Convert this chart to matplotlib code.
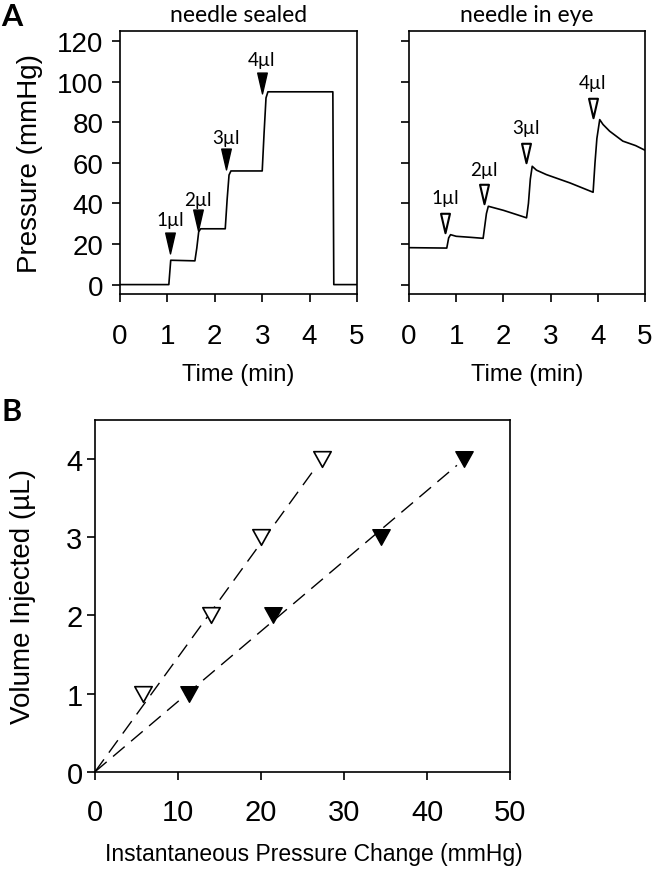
import numpy as np
import matplotlib.pyplot as plt
from matplotlib.path import Path

# panel A, needle sealed trace (min, mmHg)
t_sealed = [0, 1.03, 1.07, 1.58, 1.62, 1.66, 1.70, 2.22, 2.26, 2.30, 2.34, 3.0, 3.04, 3.08, 3.12, 4.49, 4.51, 5.0]
p_sealed = [0, 0, 12, 11.7, 18, 26, 27.5, 27.5, 42, 54, 56, 56, 75, 92, 95, 95, 0, 0]

# panel A, needle in eye trace
t_eye = [0, 0.80, 0.84, 0.88, 1.0, 1.3, 1.57, 1.60, 1.64, 1.68, 2.0, 2.28, 2.49, 2.53, 2.57, 2.61,
         2.70, 2.91, 3.41, 3.90, 3.94, 3.98, 4.04, 4.11, 4.25, 4.53, 4.8, 5.0]
p_eye = [18.2, 18.0, 23, 24.6, 23.8, 23.3, 22.8, 28, 35, 38.6, 36.6, 34.5, 32.9, 40, 52, 58.3,
         56.4, 54.2, 50.1, 45.5, 60, 72, 81.3, 78.9, 75.6, 70.7, 68.5, 66.2]

# injection markers: time, marker height, label height
inj_labels = ['1\u00b5l', '2\u00b5l', '3\u00b5l', '4\u00b5l']
sealed_mark_t = [1.05, 1.64, 2.23, 2.99]
sealed_mark_p = [20.5, 32, 62, 99.5]
sealed_lab_p = [32, 42, 72.6, 111]
eye_mark_t = [0.76, 1.59, 2.47, 3.89]
eye_mark_p = [30.4, 44.4, 64.9, 86.8]
eye_lab_p = [42.7, 56.7, 77.2, 99.4]

# panel B
vol = [1, 2, 3, 4]
dp_eye = [5.8, 14.0, 20.0, 27.3]
dp_sealed = [11.3, 21.5, 34.5, 44.5]
fit_eye_x = [0, 26.5]
fit_eye_y = [0, 3.88]
fit_sealed_x = [0, 43.6]
fit_sealed_y = [0, 3.92]

plt.rcParams['font.family'] = ['Liberation Sans', 'DejaVu Sans']
lab_font = ['Lato', 'DejaVu Sans']

arrow = Path([(-0.23, 0.5), (0.23, 0.5), (0, -0.5), (-0.23, 0.5)],
             [Path.MOVETO, Path.LINETO, Path.LINETO, Path.CLOSEPOLY])
tri_b = Path([(-0.5, 0.45), (0.5, 0.45), (0, -0.45), (-0.5, 0.45)],
             [Path.MOVETO, Path.LINETO, Path.LINETO, Path.CLOSEPOLY])

fig = plt.figure(figsize=(6.63, 8.70), dpi=100)
ax1 = fig.add_axes([0.181, 0.661, 0.3575, 0.3023])
ax2 = fig.add_axes([0.6169, 0.661, 0.356, 0.3023])
ax3 = fig.add_axes([0.1433, 0.1118, 0.626, 0.4043])

for ax in (ax1, ax2):
    ax.set_xlim(0, 5)
    ax.set_ylim(-4.6, 125)
    ax.set_xticks(range(6))
    ax.set_yticks(range(0, 121, 20))
    ax.tick_params(direction='out', length=6, width=1.2, labelsize=20)
    ax.tick_params(axis='x', pad=15)
    ax.tick_params(axis='y', pad=6)
    ax.set_xlabel('Time (min)', fontsize=17, labelpad=10)
    for s in ax.spines.values():
        s.set_linewidth(1.2)

ax1.plot(t_sealed, p_sealed, color='black', lw=1.2)
ax1.set_ylabel('Pressure (mmHg)', fontsize=20, labelpad=10)
ax1.set_title('needle sealed', fontsize=16.5, family=lab_font, pad=7)
for t, pm, pl, lab in zip(sealed_mark_t, sealed_mark_p, sealed_lab_p, inj_labels):
    ax1.plot(t, pm, marker=arrow, ms=15, color='black', mfc='black', mec='black')
    ax1.text(t, pl, lab, ha='center', va='center', fontsize=13.5, family=lab_font)

ax2.plot(t_eye, p_eye, color='black', lw=1.2)
ax2.tick_params(labelleft=False)
ax2.set_title('needle in eye', fontsize=16.5, family=lab_font, pad=7)
for t, pm, pl, lab in zip(eye_mark_t, eye_mark_p, eye_lab_p, inj_labels):
    ax2.plot(t, pm, marker=arrow, ms=14, color='black', mfc='white', mec='black', mew=1.5)
    ax2.text(t, pl, lab, ha='center', va='center', fontsize=13.5, family=lab_font)

ax3.plot(fit_eye_x, fit_eye_y, color='black', lw=1.0, dashes=(11, 6))
ax3.plot(fit_sealed_x, fit_sealed_y, color='black', lw=1.0, dashes=(11, 6))
ax3.plot(dp_eye, vol, ls='none', marker=tri_b, ms=12.5, mfc='white', mec='black', mew=1.2)
ax3.plot(dp_sealed, vol, ls='none', marker=tri_b, ms=12.5, mfc='black', mec='black')
ax3.set_xlim(0, 50)
ax3.set_ylim(0, 4.5)
ax3.set_xticks(range(0, 51, 10))
ax3.set_yticks(range(0, 5))
ax3.tick_params(direction='out', length=6, width=1.2, labelsize=21)
ax3.tick_params(axis='x', pad=13)
ax3.tick_params(axis='y', pad=3)
for s in ax3.spines.values():
    s.set_linewidth(1.2)
ax3.set_xlabel('Instantaneous Pressure Change (mmHg)', fontsize=16.5)
ax3.xaxis.set_label_coords(0.527, -0.2)
ax3.set_ylabel('Volume Injected (\u00b5L)', fontsize=20, labelpad=22)

fig.text(0.002, 0.997, 'A', fontsize=22, fontweight='bold', family=lab_font, va='top', ha='left')
fig.text(0.002, 0.542, 'B', fontsize=22, fontweight='bold', family=lab_font, va='top', ha='left')

fig.savefig('out.png', dpi=100)
